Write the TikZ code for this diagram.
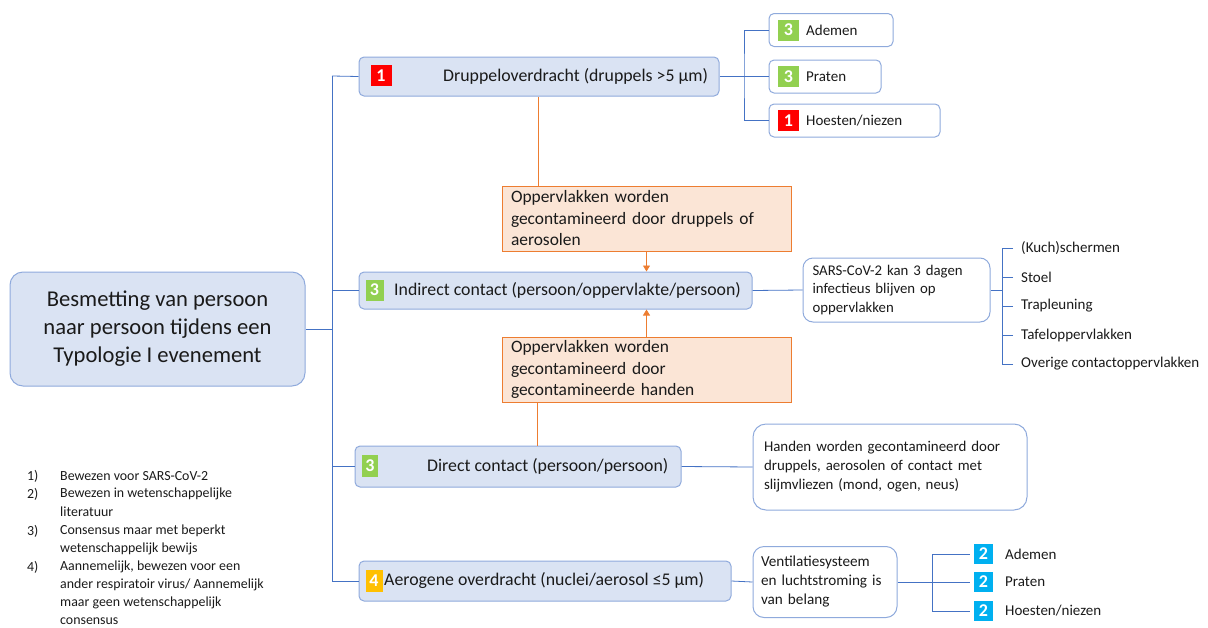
\documentclass[tikz,border=0pt]{standalone}
\usepackage{fontspec}
\setmainfont{Carlito}
\usetikzlibrary{arrows.meta}
\definecolor{nodeblue}{HTML}{8FAADC}
\definecolor{linkblue}{HTML}{4472C4}
\definecolor{bfill}{HTML}{DAE3F3}
\definecolor{ofill}{HTML}{FBE5D6}
\definecolor{oline}{HTML}{ED7D31}
\definecolor{bred}{HTML}{FF0000}
\definecolor{bgreen}{HTML}{92D050}
\definecolor{byellow}{HTML}{FFC000}
\definecolor{bcyan}{HTML}{00B0F0}
\definecolor{txt}{HTML}{1A1A1A}
\tikzset{
  box/.style={rectangle,inner sep=0pt,line width=1pt,text=txt},
  rootbox/.style={box,rounded corners=13pt,fill=bfill,draw=nodeblue,align=center,font=\fontsize{22.6}{28}\selectfont},
  branchbox/.style={box,rounded corners=5pt,fill=bfill,draw=nodeblue},
  leafbox/.style={box,rounded corners=5pt,fill=white,draw=nodeblue},
  notebox/.style={box,rounded corners=10pt,fill=white,draw=nodeblue,align=left,font=\fontsize{14.8}{18.5}\selectfont},
  orbox/.style={box,fill=ofill,draw=oline,align=left,font=\fontsize{17.4}{21.5}\selectfont},
  badge/.style={rectangle,inner sep=0pt,text=white,font=\bfseries\fontsize{18}{18}\selectfont},
  btext/.style={inner sep=0pt,text=txt,anchor=west,font=\fontsize{17.8}{20}\selectfont},
  stext/.style={inner sep=0pt,text=txt,anchor=west,font=\fontsize{15}{18}\selectfont},
  ltext/.style={inner sep=0pt,text=txt,anchor=west,font=\fontsize{13.9}{18}\selectfont},
  conn/.style={draw=linkblue,line width=0.8pt},
  oconn/.style={draw=oline,line width=0.8pt},
  oarrow/.style={oconn,-{Triangle[width=7pt,length=6pt]}},
}
\begin{document}
\begin{tikzpicture}[x=1pt,y=-1pt]
\useasboundingbox (0,0) rectangle (1208,627);
% root
\node[rootbox,minimum width=295pt,minimum height=114pt] (root) at (157.5,329)
  {Besmetting van persoon\\naar persoon tijdens een\\Typologie I evenement};
\coordinate (ttop) at (332,76);
\coordinate (tbot) at (332,581);
\coordinate (tmid) at (332,329);
% branches
\node[branchbox,minimum width=360pt,minimum height=39pt] (b1) at (539,76.5) {};
\node[badge,fill=bred,minimum width=21pt,minimum height=21pt] (b1n) at (381,75.5) {1};
\node[btext] (b1t) at (443,76.5) {Druppeloverdracht (druppels >5 µm)};

\node[branchbox,minimum width=393pt,minimum height=37pt] (b2) at (555.5,290.5) {};
\node[badge,fill=bgreen,minimum width=18pt,minimum height=21pt] (b2n) at (374.5,290) {3};
\node[btext] (b2t) at (394,290.5) {Indirect contact (persoon/oppervlakte/persoon)};

\node[branchbox,minimum width=326pt,minimum height=41pt] (b3) at (518,466.5) {};
\node[badge,fill=bgreen,minimum width=16pt,minimum height=22pt] (b3n) at (370,466) {3};
\node[btext] (b3t) at (427,466.5) {Direct contact (persoon/persoon)};

\node[branchbox,minimum width=372pt,minimum height=40pt] (b4) at (545,581) {};
\node[badge,fill=byellow,minimum width=17pt,minimum height=22pt] (b4n) at (374,581) {4};
\node[btext] (b4t) at (384,581) {Aerogene overdracht (nuclei/aerosol ≤5 µm)};

\draw[conn] (ttop) -- (tbot);
\draw[conn] (root.east) -- (tmid);
\draw[conn] (ttop) -- (b1.west);
\draw[conn] (ttop |- b2.west) -- (b2.west);
\draw[conn] (ttop |- b3.west) -- (b3.west);
\draw[conn] (tbot) -- (b4.west);

% top leaves
\coordinate (j1) at (744,76.5);
\node[leafbox,minimum width=124pt,minimum height=33pt] (l1) at (831,30) {};
\node[badge,fill=bgreen,minimum width=21pt,minimum height=21pt] (l1n) at (788.5,30) {3};
\node[stext] (l1t) at (806,30) {Ademen};
\node[leafbox,minimum width=112pt,minimum height=33pt] (l2) at (825,76.5) {};
\node[badge,fill=bgreen,minimum width=21pt,minimum height=21pt] (l2n) at (788.5,76.5) {3};
\node[stext] (l2t) at (806,76.5) {Praten};
\node[leafbox,minimum width=171pt,minimum height=33pt] (l3) at (854.5,120.5) {};
\node[badge,fill=bred,minimum width=21pt,minimum height=21pt] (l3n) at (788.5,120.5) {1};
\node[stext] (l3t) at (806,120.5) {Hoesten/niezen};
\draw[conn] (b1.east) -- (l2.west);
\draw[conn] (l1.west) -| (j1) |- (l3.west);

% orange boxes
\coordinate (ox1) at (538,0);
\coordinate (ox2) at (537,0);
\node[orbox,minimum width=289pt,minimum height=65pt,text width=271pt] (oa) at (646.5,218.5)
  {Oppervlakken worden\\gecontamineerd door druppels of\\aerosolen};
\node[orbox,minimum width=289pt,minimum height=65pt,text width=271pt] (ob) at (646.5,369.5)
  {Oppervlakken worden\\gecontamineerd door\\gecontamineerde handen};
\draw[oconn] (b1.south -| ox1) -- (oa.north -| ox1);
\draw[oarrow] (oa.south) -- (oa.south |- b2.north);
\draw[oarrow] (ob.north) -- (ob.north |- b2.south);
\draw[oconn] (b3.north -| ox2) -- (ob.south -| ox2);

% SARS note and list
\node[notebox,minimum width=187pt,minimum height=64pt,text width=168pt] (s1) at (896.5,290)
  {SARS-CoV-2 kan 3 dagen\\infectieus blijven op\\oppervlakken};
\draw[conn] (b2.east) -- (s1.west);
\coordinate (j2) at (1002,290);
\draw[conn] (s1.east) -- (j2);
\node[stext,inner xsep=8pt,anchor=west] (k1) at (1013,248) {(Kuch)schermen};
\node[stext,inner xsep=8pt,anchor=west] (k2) at (1013,277) {Stoel};
\node[stext,inner xsep=8pt,anchor=west] (k3) at (1013,306) {Trapleuning};
\node[stext,inner xsep=8pt,anchor=west] (k4) at (1013,335) {Tafeloppervlakken};
\node[stext,inner xsep=8pt,anchor=west] (k5) at (1013,364) {Overige contactoppervlakken};
\foreach \k in {k1,k2,k3,k4,k5} \draw[conn] (\k.west) -| (j2);

% Direct note
\node[notebox,rounded corners=13pt,minimum width=274pt,minimum height=86pt,text width=252pt,font=\fontsize{14.9}{19}\selectfont] (d1) at (890,467)
  {Handen worden gecontamineerd door\\druppels, aerosolen of contact met\\slijmvliezen (mond, ogen, neus)};
\draw[conn] (b3.east) -- (d1.west);

% Ventilation note
\node[notebox,rounded corners=11pt,minimum width=144pt,minimum height=71pt,text width=128pt,font=\fontsize{15.2}{19}\selectfont] (v1) at (825,582)
  {Ventilatiesysteem\\en luchtstroming is\\van belang};
\draw[conn] (b4.east) -- (v1.west);
\coordinate (j3) at (932,582);
\draw[conn] (v1.east) -- (j3);
\node[badge,fill=bcyan,minimum width=19pt,minimum height=20pt] (a1) at (983.5,554) {2};
\node[badge,fill=bcyan,minimum width=19pt,minimum height=20pt] (a2) at (983.5,582) {2};
\node[badge,fill=bcyan,minimum width=19pt,minimum height=20pt] (a3) at (983.5,611) {2};
\node[stext] (a1t) at (1005,554) {Ademen};
\node[stext] (a2t) at (1005,582) {Praten};
\node[stext] (a3t) at (1005,611) {Hoesten/niezen};
\foreach \a in {a1,a2,a3} \draw[conn,shorten <=4pt] (\a.west) -| (j3);

% legend
\node[ltext] (n1) at (27,476) {1)};
\node[ltext] (g1) at (60,476) {Bewezen voor SARS-CoV-2};
\node[ltext] (n2) at (27,494) {2)};
\node[ltext] (g2a) at (60,494) {Bewezen in wetenschappelijke};
\node[ltext] (g2b) at (60,512) {literatuur};
\node[ltext] (n3) at (27,531) {3)};
\node[ltext] (g3a) at (60,531) {Consensus maar met beperkt};
\node[ltext] (g3b) at (60,549) {wetenschappelijk bewijs};
\node[ltext] (n4) at (27,567) {4)};
\node[ltext] (g4a) at (60,567) {Aannemelijk, bewezen voor een};
\node[ltext] (g4b) at (60,585) {ander respiratoir virus/ Aannemelijk};
\node[ltext] (g4c) at (60,603) {maar geen wetenschappelijk};
\node[ltext] (g4d) at (60,621) {consensus};
\end{tikzpicture}
\end{document}
